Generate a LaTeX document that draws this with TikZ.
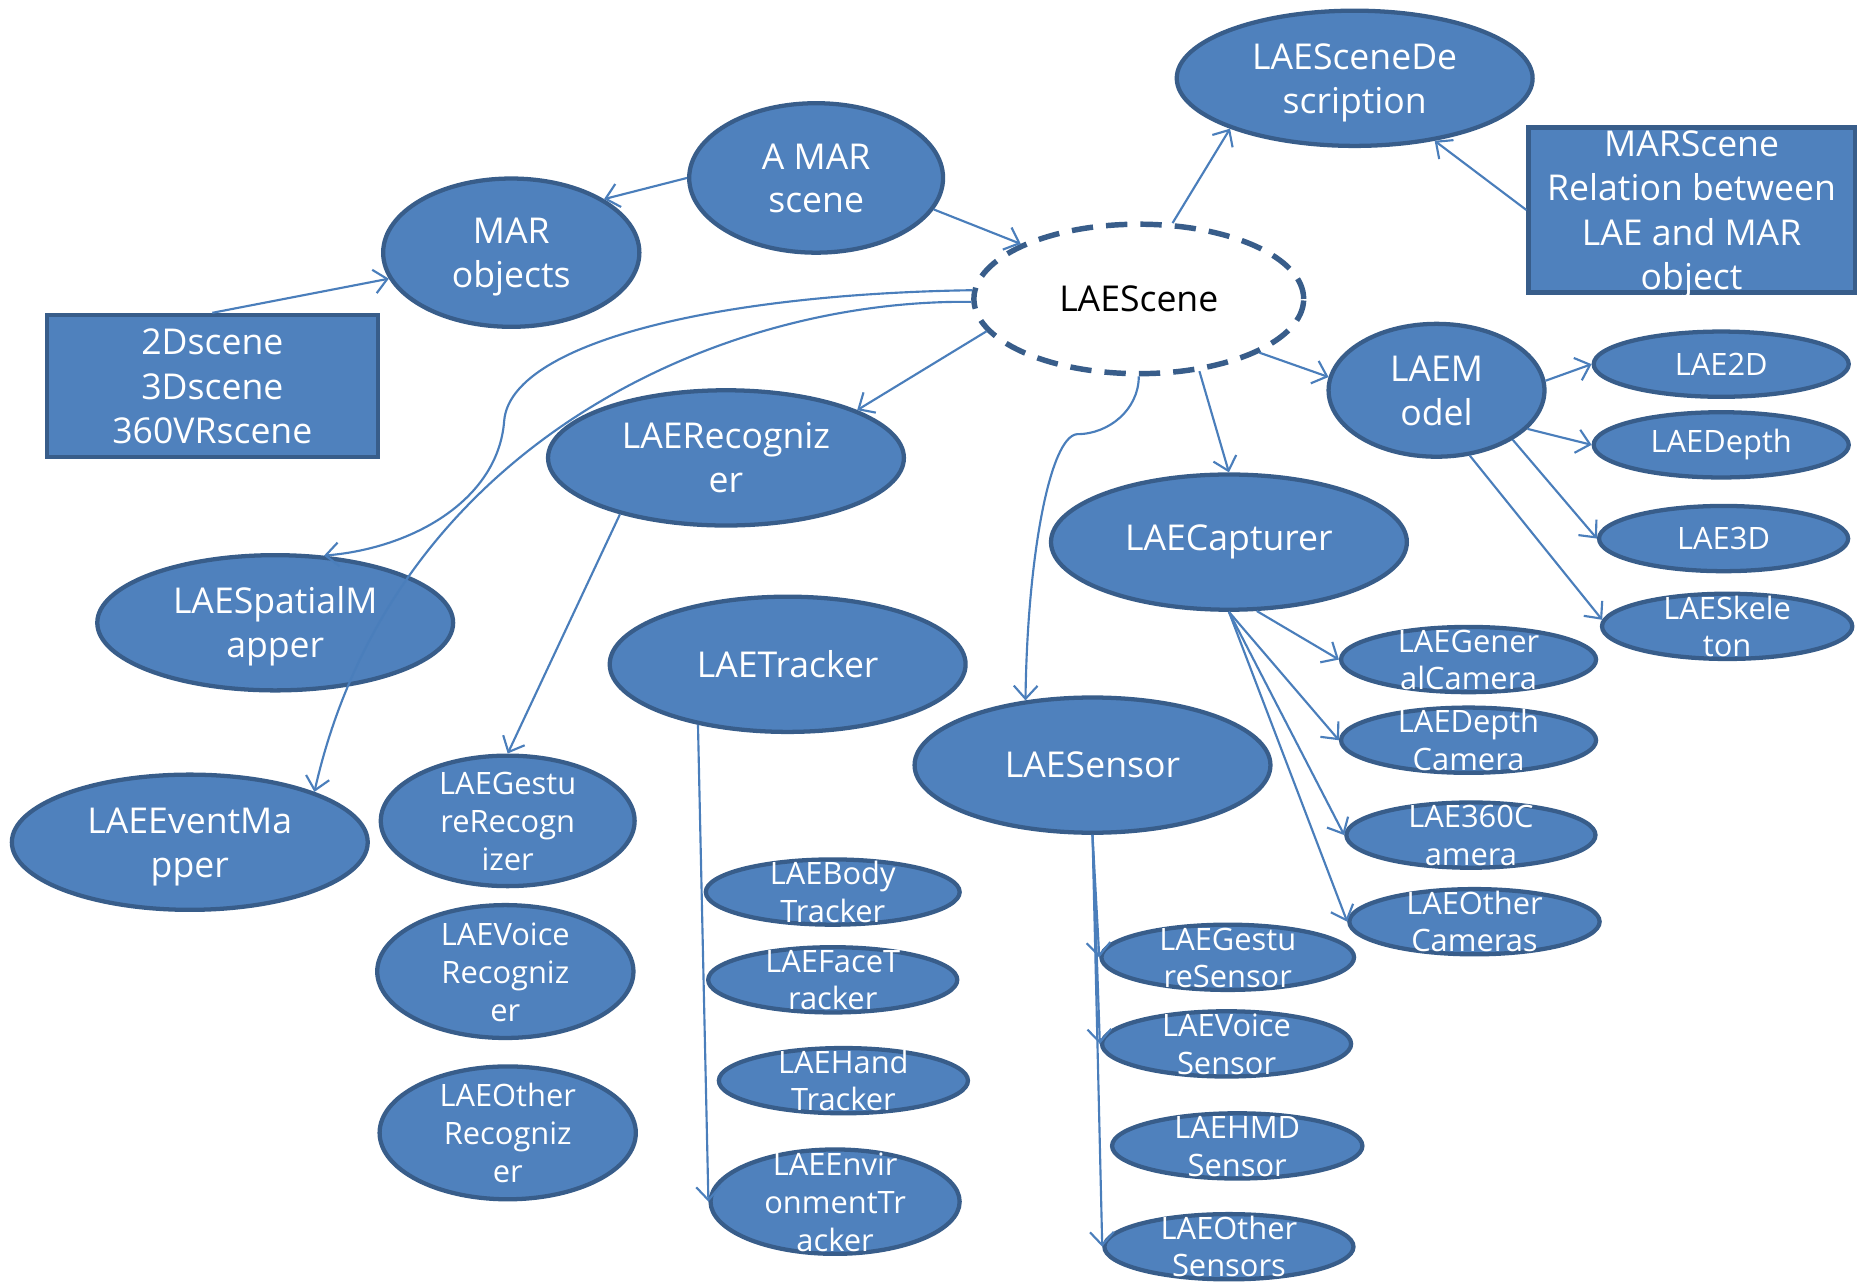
\documentclass[tikz,border=0pt]{standalone}
\usepackage{fontspec}
\setmainfont{Open Sans}
\usepackage{tikz}
\usetikzlibrary{shapes.geometric, arrows.meta}
\definecolor{fillblue}{RGB}{79, 129, 189}
\definecolor{edgeblue}{RGB}{56, 93, 138}
\definecolor{lineblue}{RGB}{74, 126, 187}
\newcommand{\wrapped}[1]{\smash{\raisebox{-.36em}{\begin{tabular}[c]{@{}c@{}}#1\end{tabular}}}}

\begin{document}
\begin{tikzpicture}[x=0.5pt, y=-0.5pt,
        >={Straight Barb[length=5.5pt, width=10pt]},
        mainnode/.style={ellipse, draw=edgeblue, fill=fillblue, line width=1.8pt, text=white, inner sep=0pt, minimum width=150pt, minimum height=57pt, font=\fontsize{15pt}{18.5pt}\selectfont},
        midnode/.style={mainnode, minimum width=107pt, minimum height=55pt, font=\fontsize{13pt}{16pt}\selectfont},
        leafnode/.style={mainnode, minimum width=106pt, minimum height=27.5pt, font=\fontsize{13pt}{15.75pt}\selectfont},
        infobox/.style={rectangle, draw=edgeblue, fill=fillblue, line width=1.8pt, text=white, inner sep=0pt, font=\fontsize{15pt}{18.75pt}\selectfont},
        link/.style={->, draw=lineblue, line width=0.9pt}
    ]
        \useasboundingbox (0,0) rectangle (1568,1082);

        % scene level
        \node (scene) [mainnode, fill=white, text=black, dash pattern=on 9pt off 5.5pt, line width=2.3pt, minimum width=139pt, minimum height=63pt] at (960,252) {LAEScene};
        \node (desc) [mainnode] at (1142,66) {\wrapped{LAESceneDe\\scription}};
        \node (marbox) [infobox, minimum width=137.5pt, minimum height=69.5pt] at (1426,177) {\wrapped{MARScene\\Relation between\\LAE and MAR\\object}};
        \node (amar) [mainnode, minimum width=107pt, minimum height=63pt] at (688,150) {\wrapped{A MAR\\scene}};
        \node (marobj) [mainnode, minimum width=108pt, minimum height=62.5pt] at (431,213) {\wrapped{MAR\\objects}};
        \node (box2d) [infobox, minimum width=139.5pt, minimum height=60pt] at (179,325.5) {\wrapped{2Dscene\\3Dscene\\360VRscene}};

        % model
        \node (model) [mainnode, minimum width=91pt, minimum height=56pt] at (1211,329) {\wrapped{LAEM\\odel}};
        \node (lae2d) [leafnode, minimum width=107.5pt] at (1451,307) {LAE2D};
        \node (laedepth) [leafnode, minimum width=107.5pt] at (1451,375) {LAEDepth};
        \node (lae3d) [leafnode, minimum width=105pt] at (1453,454) {LAE3D};
        \node (skel) [leafnode, minimum width=105.5pt] at (1456,528) {\wrapped{LAESkele\\ton}};

        % components
        \node (recog) [mainnode] at (612,386) {\wrapped{LAERecogniz\\er}};
        \node (capt) [mainnode] at (1036,457) {LAECapturer};
        \node (spatial) [mainnode] at (232,525) {\wrapped{LAESpatialM\\apper}};
        \node (tracker) [mainnode] at (664,560) {LAETracker};
        \node (sensor) [mainnode] at (921,645) {LAESensor};
        \node (event) [mainnode] at (160,710) {\wrapped{LAEEventMa\\pper}};

        % recognizers
        \node (gest) [midnode] at (428,692) {\wrapped{LAEGestu\\reRecogn\\izer}};
        \node (voice) [midnode, minimum width=108pt, minimum height=56pt] at (426,819) {\wrapped{LAEVoice\\Recogniz\\er}};
        \node (otherrec) [midnode, minimum width=108pt, minimum height=56pt] at (428,955) {\wrapped{LAEOther\\Recogniz\\er}};

        % cameras
        \node (gencam) [leafnode, minimum width=107.5pt] at (1238,556) {\wrapped{LAEGener\\alCamera}};
        \node (depthcam) [leafnode, minimum width=107.5pt] at (1238,624) {\wrapped{LAEDepth\\Camera}};
        \node (cam360) [leafnode, minimum width=105pt] at (1240,704) {\wrapped{LAE360C\\amera}};
        \node (othercam) [leafnode, minimum width=105.5pt] at (1243,777) {\wrapped{LAEOther\\Cameras}};

        % trackers
        \node (body) [leafnode, minimum width=107pt] at (702,752) {\wrapped{LAEBody\\Tracker}};
        \node (face) [leafnode, minimum width=105pt] at (702,826) {\wrapped{LAEFaceT\\racker}};
        \node (hand) [leafnode, minimum width=105pt] at (711,911) {\wrapped{LAEHand\\Tracker}};
        \node (env) [leafnode, minimum width=105pt, minimum height=44pt, font=\fontsize{13pt}{16pt}\selectfont] at (704,1013) {\wrapped{LAEEnvir\\onmentTr\\acker}};

        % sensors
        \node (gestsens) [leafnode, minimum width=106.5pt] at (1035,807) {\wrapped{LAEGestu\\reSensor}};
        \node (voicesens) [leafnode, minimum width=105pt] at (1034,880) {\wrapped{LAEVoice\\Sensor}};
        \node (hmd) [leafnode, minimum width=105.5pt] at (1043,966) {\wrapped{LAEHMD\\Sensor}};
        \node (othersens) [leafnode, minimum width=105pt] at (1036,1051) {\wrapped{LAEOther\\Sensors}};

        % connectors
        \draw[link] (amar.west) -- (marobj.30);
        \draw[link] (amar.-15) -- (scene.155);
        \draw[link] (box2d.north) -- (marobj.192);
        \draw[link] (scene.66) -- (desc.202);
        \draw[link] (marbox.west) -- (desc.-38);
        \draw[link] (scene.-24) -- (model.173);
        \draw[link] (model.5) -- (lae2d.west);
        \draw[link] (model.-23) -- (laedepth.west);
        \draw[link] (model.-33) -- (lae3d.west);
        \draw[link] (model.-63) -- (skel.177);
        \draw[link] (scene.192) -- (recog.20);
        \draw[link] (scene.177) .. controls (600,248) and (430,290) .. (425,355) .. controls (420,420) and (350,462) .. (spatial.54);
        \draw[link] (scene.181) .. controls (600,252) and (330,380) .. (event.22);
        \draw[link] (scene.south) .. controls (960,345) and (935,366) .. (908,366) .. controls (885,368) and (866,470) .. (sensor.136);
        \draw[link] (scene.-50) -- (capt.north);
        \draw[link] (recog.208) -- (gest.north);
        \draw[link] (capt.-68) -- (gencam.west);
        \foreach \cam in {depthcam, cam360, othercam}
            \draw[link] (capt.south) -- (\cam.west);
        \draw[link] (tracker.214) -- (env.west);
        \foreach \sens in {gestsens, voicesens, othersens}
            \draw[link] (sensor.south) -- (\sens.west);
    \end{tikzpicture}
\end{document}
